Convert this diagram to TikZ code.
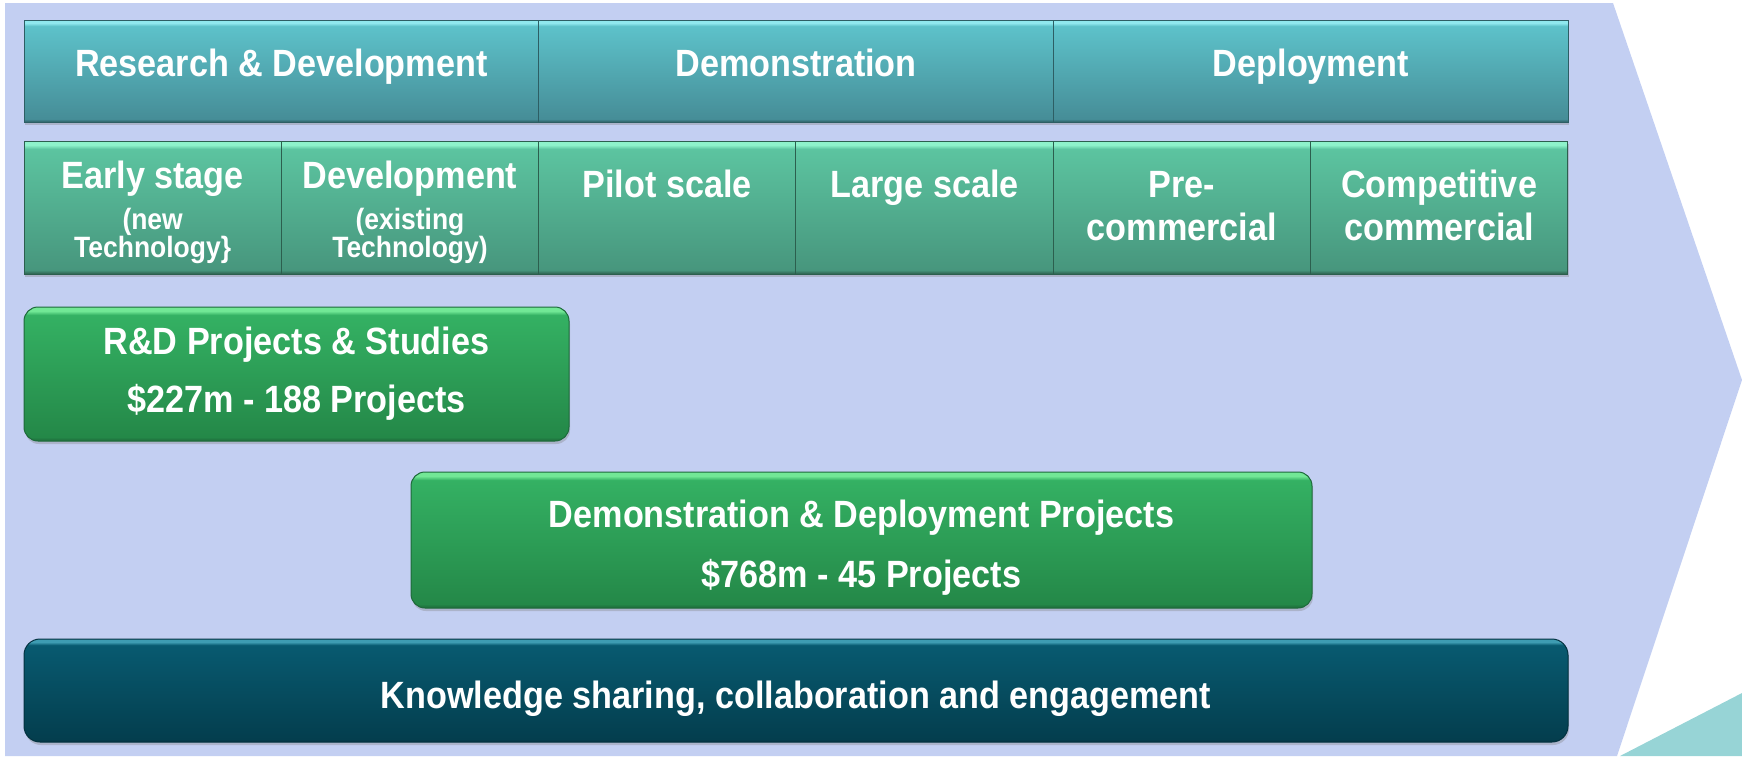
\documentclass[tikz,border=0pt]{standalone}
\usepackage{fontspec}
\setmainfont{Liberation Sans}[FakeStretch=0.9]
\usepackage{tikz}
\usetikzlibrary{positioning, shadows}

\definecolor{colorChevron}{HTML}{C3CFF2}
\definecolor{colorCorner}{HTML}{97D4D6}
\definecolor{colorPhaseTop}{HTML}{5DC2CA}
\definecolor{colorPhaseBot}{HTML}{468D97}
\definecolor{colorPhaseHi}{HTML}{8FE8EE}
\definecolor{colorPhaseLine}{HTML}{2D5E64}
\definecolor{colorStageTop}{HTML}{5CC4A0}
\definecolor{colorStageBot}{HTML}{47967D}
\definecolor{colorStageHi}{HTML}{8EF2CB}
\definecolor{colorStageLine}{HTML}{2C5F4E}
\definecolor{colorFundTop}{HTML}{34B163}
\definecolor{colorFundBot}{HTML}{248848}
\definecolor{colorFundHi}{HTML}{72E896}
\definecolor{colorFundLine}{HTML}{1D6A3A}
\definecolor{colorShareTop}{HTML}{085A70}
\definecolor{colorShareBot}{HTML}{043E4E}
\definecolor{colorShareHi}{HTML}{3E9CB2}
\definecolor{colorShareLine}{HTML}{033240}

\pgfdeclareverticalshading{phaseShade}{100bp}{color(0bp)=(colorPhaseLine); color(25bp)=(colorPhaseLine); color(26.5bp)=(colorPhaseBot); color(72bp)=(colorPhaseTop); color(73.5bp)=(colorPhaseHi); color(100bp)=(colorPhaseHi)}
\pgfdeclareverticalshading{stageShade}{100bp}{color(0bp)=(colorStageLine); color(25bp)=(colorStageLine); color(26.5bp)=(colorStageBot); color(72bp)=(colorStageTop); color(73.5bp)=(colorStageHi); color(100bp)=(colorStageHi)}
\pgfdeclareverticalshading{fundShade}{100bp}{color(0bp)=(colorFundLine); color(25bp)=(colorFundLine); color(26.5bp)=(colorFundBot); color(72bp)=(colorFundTop); color(73.5bp)=(colorFundHi); color(100bp)=(colorFundHi)}
\pgfdeclareverticalshading{shareShade}{100bp}{color(0bp)=(colorShareLine); color(25bp)=(colorShareLine); color(26.5bp)=(colorShareBot); color(72bp)=(colorShareTop); color(73.5bp)=(colorShareHi); color(100bp)=(colorShareHi)}

\tikzset{
  box shadow/.style={drop shadow={shadow xshift=1pt, shadow yshift=-3pt, opacity=0.35}},
  phase/.style={shading=phaseShade, draw=colorPhaseLine, line width=1pt, minimum width=514.7pt, minimum height=102pt, inner sep=0pt, box shadow},
  stage/.style={shading=stageShade, draw=colorStageLine, line width=1pt, minimum width=257.3pt, minimum height=133pt, inner sep=0pt, box shadow},
  fund/.style={shading=fundShade, draw=colorFundLine, line width=1pt, rounded corners=14pt, text=white, align=center, font=\fontsize{38}{43}\selectfont\bfseries, box shadow},
  share/.style={shading=shareShade, draw=colorShareLine, line width=1pt, rounded corners=16pt, text=white, align=center, font=\fontsize{38}{43}\selectfont\bfseries, box shadow},
  big text/.style={text=white, font=\fontsize{38}{43}\selectfont\bfseries, align=center, anchor=base, inner sep=0pt},
  small text/.style={text=white, font=\fontsize{29.4}{28}\selectfont\bfseries, align=center, anchor=base, inner sep=0pt}
}

\begin{document}
\begin{tikzpicture}[x=1pt, y=-1pt, node distance=0pt, every node/.append style={outer sep=0pt}]
\useasboundingbox (0,0) rectangle (1742,756);
% background arrow
\fill[colorChevron] (5,3) -- (1613,3) -- (1742,380) -- (1617,756) -- (5,756) -- cycle;
\fill[colorCorner] (1620,756) -- (1742,693) -- (1742,756) -- cycle;

% phases
\node[phase, anchor=north west] (rd) at (24,20) {};
\node[phase, right=of rd] (demo) {};
\node[phase, right=of demo] (deploy) {};
\node[big text] (rdLabel) at ([yshift=-56pt]rd.north) {Research \& Development};
\node[big text] (demoLabel) at ([yshift=-56pt]demo.north) {Demonstration};
\node[big text] (deployLabel) at ([yshift=-56pt]deploy.north) {Deployment};

% stages (base of a multi-line text = its last line)
\node[stage, anchor=north west] (early) at (24,141) {};
\node[stage, right=of early] (devel) {};
\node[stage, right=of devel] (pilot) {};
\node[stage, right=of pilot] (large) {};
\node[stage, right=of large] (precom) {};
\node[stage, right=of precom] (compcom) {};
\node[big text] (earlyLabel) at ([yshift=-47pt]early.north) {Early stage};
\node[small text] (earlyNote) at ([yshift=-116.5pt]early.north) {(new\\Technology\}};
\node[big text] (develLabel) at ([yshift=-47pt]devel.north) {Development};
\node[small text] (develNote) at ([yshift=-116.5pt]devel.north) {(existing\\Technology)};
\node[big text] (pilotLabel) at ([yshift=-56pt]pilot.north) {Pilot scale};
\node[big text] (largeLabel) at ([yshift=-56pt]large.north) {Large scale};
\node[big text] (precomLabel) at ([yshift=-99pt]precom.north) {Pre-\\commercial};
\node[big text] (compcomLabel) at ([yshift=-99pt]compcom.north) {Competitive\\commercial};

% funding
\node[fund, minimum width=545pt, minimum height=134pt, anchor=north west] (rdFund) at (24,307) {R\&D Projects \& Studies\\[15pt]\$227m - 188 Projects};
\node[fund, minimum width=901pt, minimum height=136pt, anchor=north west] (ddFund) at (411,472) {\rule{0pt}{42pt}Demonstration \& Deployment Projects\\[17pt]\$768m - 45 Projects};

% knowledge
\node[share, minimum width=1544pt, minimum height=103pt, text height=44pt, text depth=8pt, anchor=north west] (share) at (24,639) {Knowledge sharing, collaboration and engagement};
\end{tikzpicture}
\end{document}
